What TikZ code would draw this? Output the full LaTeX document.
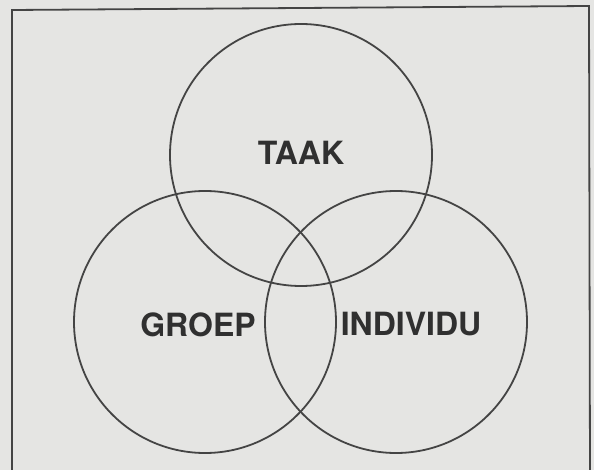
\documentclass[tikz,border=0pt]{standalone}
\usepackage{fontspec}
\setsansfont{TeX Gyre Heros}
\usetikzlibrary{positioning}
\definecolor{papier}{RGB}{229,229,227}
\definecolor{inkt}{RGB}{68,68,68}

\begin{document}
\begin{tikzpicture}[x=1pt,y=-1pt,
    kring/.style={draw=inkt,line width=1.8pt,circle,minimum size=262pt,inner sep=0pt},
    woord/.style={text=inkt!70!black,font=\sffamily\bfseries\fontsize{32}{32}\selectfont,inner sep=0pt}]
  % achtergrond en kader
  \fill[papier] (0,0) rectangle (594,470);
  \useasboundingbox (0,0) rectangle (594,470);
  \clip (0,0) rectangle (594,470);
  \draw[inkt,line width=1.8pt] (12,480) -- (12,10) -- (589,6) -- (590,480);
  % de drie cirkels
  \node[kring] (taak) at (301,155) {};
  \node[kring] (groep) at (205,322) {};
  \node[kring] (individu) at (396,322) {};
  % teksten
  \node[woord] (ltaak) at (301,153) {TAAK};
  \node[woord] (lgroep) at (198,325) {GROEP};
  \node[woord] (lindividu) at (411,324) {INDIVIDU};
\end{tikzpicture}
\end{document}
